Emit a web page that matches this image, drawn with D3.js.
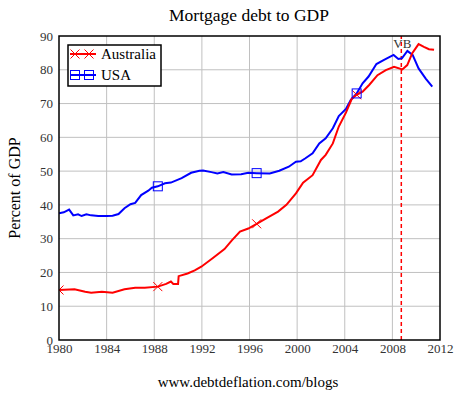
<!DOCTYPE html>
<html>
<head>
<meta charset="utf-8">
<script src="https://cdn.jsdelivr.net/npm/d3@7"></script>
<style>
  body { margin: 0; background: #fff; }
  svg text { font-family: "Liberation Serif", "DejaVu Serif", serif; }
</style>
</head>
<body>
<svg id="chart" width="461" height="393"></svg>
<script>
const width = 461
const height = 393
const margin = { top: 36, left: 59, bottom: 53, right: 20 }

const yearTicks = [1980, 1984, 1988, 1992, 1996, 2000, 2004, 2008, 2012]
const valueTicks = [0, 10, 20, 30, 40, 50, 60, 70, 80, 90]

// Australia mortgage debt, % of GDP
const ausYears = [1980.0, 1981.3, 1982.2, 1982.7, 1983.6, 1984.5, 1985.5, 1986.4, 1987.2, 1988.3,
  1989.0, 1989.4, 1989.6, 1990.0, 1990.05, 1990.8, 1991.4, 1991.95, 1992.9, 1993.9,
  1994.5, 1995.2, 1995.9, 1996.6, 1997.4, 1998.4, 1999.1, 1999.9, 2000.5, 2001.3,
  2002.0, 2002.4, 2003.0, 2003.5, 2004.1, 2004.6, 2005.0, 2005.5, 2006.05, 2006.75,
  2007.45, 2008.14, 2008.84, 2009.25, 2009.67, 2010.2, 2010.65, 2011.07, 2011.5]
const ausValues = [14.8, 15.0, 14.3, 14.0, 14.3, 14.0, 15.0, 15.5, 15.5, 15.8,
  16.6, 17.3, 16.6, 16.6, 18.9, 19.7, 20.6, 21.7, 24.2, 26.9,
  29.4, 32.1, 33.0, 34.4, 36.0, 38.0, 40.0, 43.4, 46.6, 48.8,
  53.3, 54.8, 58.2, 63.2, 67.3, 71.5, 72.6, 73.5, 75.5, 78.4,
  79.9, 80.9, 80.1, 81.4, 84.9, 87.6, 86.8, 86.1, 85.9]

// USA mortgage debt, % of GDP
const usaYears = [1980.0, 1980.4, 1980.85, 1981.2, 1981.6, 1981.9, 1982.3, 1982.7, 1983.3, 1984.0,
  1984.5, 1985.0, 1985.5, 1986.0, 1986.4, 1986.9, 1987.5, 1987.8, 1988.3, 1988.9,
  1989.4, 1990.3, 1991.1, 1991.8, 1992.1, 1992.8, 1993.3, 1993.8, 1994.5, 1995.3,
  1995.9, 1996.6, 1997.7, 1998.5, 1999.3, 1999.9, 2000.3, 2000.7, 2001.3, 2001.86,
  2002.4, 2003.0, 2003.5, 2004.1, 2004.5, 2005.0, 2005.5, 2006.0, 2006.66, 2007.3,
  2008.1, 2008.5, 2008.8, 2009.26, 2009.7, 2010.2, 2010.8, 2011.35]
const usaValues = [37.5, 37.8, 38.6, 36.9, 37.2, 36.7, 37.2, 36.9, 36.7, 36.7,
  36.8, 37.3, 39.0, 40.2, 40.6, 42.9, 44.2, 45.1, 45.5, 46.4,
  46.6, 47.9, 49.5, 50.1, 50.2, 49.7, 49.3, 49.7, 49.0, 49.1,
  49.5, 49.4, 49.3, 50.1, 51.3, 52.8, 52.9, 53.8, 55.3, 58.2,
  59.7, 62.7, 66.3, 68.4, 71.0, 73.0, 76.0, 78.0, 81.7, 82.9,
  84.4, 83.2, 83.4, 85.6, 84.4, 80.4, 77.4, 75.0]

// point indices that carry a marker
const ausMarkerIdx = [0, 9, 23, 36]
const usaMarkerIdx = [18, 31, 45]

const vbYear = 2008.75
const vbLabel = 'VB'

const svg = d3.select('#chart')

const x = d3.scaleLinear().domain([1980, 2012]).range([margin.left, width - margin.right - 1])
const y = d3.scaleLinear().domain([0, 90]).range([height - margin.bottom, margin.top])

const ausData = ausYears.map((d, i) => ({ year: d, value: ausValues[i] }))
const usaData = usaYears.map((d, i) => ({ year: d, value: usaValues[i] }))

svg.append('defs').append('clipPath').attr('id', 'plotClip')
  .append('rect')
  .attr('x', x(1980)).attr('y', y(90))
  .attr('width', x(2012) - x(1980)).attr('height', y(0) - y(90))

// grid
svg.append('g')
  .selectAll('line').data(yearTicks.slice(1, -1)).enter()
  .append('line')
  .attr('x1', d => x(d)).attr('x2', d => x(d))
  .attr('y1', y(0)).attr('y2', y(90))
  .attr('stroke', '#c0c0c0').attr('stroke-width', 1)

svg.append('g')
  .selectAll('line').data(valueTicks.slice(1, -1)).enter()
  .append('line')
  .attr('x1', x(1980)).attr('x2', x(2012))
  .attr('y1', d => y(d)).attr('y2', d => y(d))
  .attr('stroke', '#c0c0c0').attr('stroke-width', 1)

// axes (labels only, frame drawn separately)
const xAxis = svg.append('g')
  .attr('transform', `translate(0,${y(0)})`)
  .call(d3.axisBottom(x).tickValues(yearTicks).tickFormat(d3.format('d')).tickSize(0).tickPadding(4))
xAxis.attr('font-family', null).attr('font-size', null)
xAxis.select('.domain').remove()
xAxis.selectAll('text')
  .attr('font-size', 13).attr('fill', '#333')

const yAxis = svg.append('g')
  .attr('transform', `translate(${x(1980)},0)`)
  .call(d3.axisLeft(y).tickValues(valueTicks).tickSize(0).tickPadding(6))
yAxis.attr('font-family', null).attr('font-size', null)
yAxis.select('.domain').remove()
yAxis.selectAll('text')
  .attr('font-size', 13).attr('fill', '#333')

const plot = svg.append('g').attr('clip-path', 'url(#plotClip)')

const line = d3.line().x(d => x(d.year)).y(d => y(d.value))

// VB dashed line
plot.append('line')
  .attr('x1', x(vbYear)).attr('x2', x(vbYear))
  .attr('y1', y(0)).attr('y2', y(90))
  .attr('stroke', '#ff0000').attr('stroke-width', 1.5)
  .attr('stroke-dasharray', '4,3')

plot.append('path')
  .datum(usaData)
  .attr('d', line)
  .attr('fill', 'none').attr('stroke', '#0000ff').attr('stroke-width', 2)

plot.append('path')
  .datum(ausData)
  .attr('d', line)
  .attr('fill', 'none').attr('stroke', '#ff0000').attr('stroke-width', 2)

function crossPath (cx, cy, s) {
  return `M${cx - s},${cy - s}L${cx + s},${cy + s}M${cx - s},${cy + s}L${cx + s},${cy - s}`
}

plot.selectAll('path.ausMark').data(ausMarkerIdx.map(i => ausData[i])).enter()
  .append('path')
  .attr('class', 'ausMark')
  .attr('d', d => crossPath(x(d.year), y(d.value), 4.5))
  .attr('stroke', '#ff0000').attr('stroke-width', 1).attr('fill', 'none')

plot.selectAll('rect.usaMark').data(usaMarkerIdx.map(i => usaData[i])).enter()
  .append('rect')
  .attr('class', 'usaMark')
  .attr('x', d => x(d.year) - 4.5).attr('y', d => y(d.value) - 4.5)
  .attr('width', 9).attr('height', 9)
  .attr('stroke', '#0000ff').attr('stroke-width', 1).attr('fill', 'none')

svg.append('text')
  .attr('x', x(vbYear) + 1).attr('y', y(90) + 12)
  .attr('text-anchor', 'middle')
  .attr('font-size', 13).attr('fill', '#333')
  .text(vbLabel)

// frame
svg.append('rect')
  .attr('x', x(1980)).attr('y', y(90))
  .attr('width', x(2012) - x(1980)).attr('height', y(0) - y(90))
  .attr('fill', 'none').attr('stroke', '#000').attr('stroke-width', 1.5)

// legend
const legend = svg.append('g')
legend.append('rect')
  .attr('x', 68).attr('y', 45).attr('width', 93).attr('height', 41)
  .attr('fill', '#fff').attr('stroke', '#000').attr('stroke-width', 1.5)

const legendItems = [
  { name: 'Australia', color: '#ff0000', mark: 'cross' },
  { name: 'USA', color: '#0000ff', mark: 'square' }
]
legendItems.forEach((item, i) => {
  const ly = 54 + i * 21
  legend.append('line')
    .attr('x1', 70).attr('x2', 96).attr('y1', ly).attr('y2', ly)
    .attr('stroke', item.color).attr('stroke-width', 2)
  ;[75, 89].forEach(mx => {
    if (item.mark === 'cross') {
      legend.append('path').attr('d', crossPath(mx, ly, 4.5))
        .attr('stroke', item.color).attr('stroke-width', 1).attr('fill', 'none')
    } else {
      legend.append('rect').attr('x', mx - 4.5).attr('y', ly - 4.5).attr('width', 9).attr('height', 9)
        .attr('stroke', item.color).attr('stroke-width', 1).attr('fill', 'none')
    }
  })
  legend.append('text')
    .attr('x', 101).attr('y', ly + 5)
    .attr('font-size', 15).attr('fill', '#000')
    .text(item.name)
})

// titles
svg.append('text')
  .attr('x', 249).attr('y', 21)
  .attr('text-anchor', 'middle').attr('font-size', 17.5)
  .text('Mortgage debt to GDP')

svg.append('text')
  .attr('transform', `translate(20,${(y(0) + y(90)) / 2}) rotate(-90)`)
  .attr('text-anchor', 'middle').attr('font-size', 16)
  .text('Percent of GDP')

svg.append('text')
  .attr('x', 248).attr('y', 387)
  .attr('text-anchor', 'middle').attr('font-size', 15)
  .text('www.debtdeflation.com/blogs')
</script>
</body>
</html>
